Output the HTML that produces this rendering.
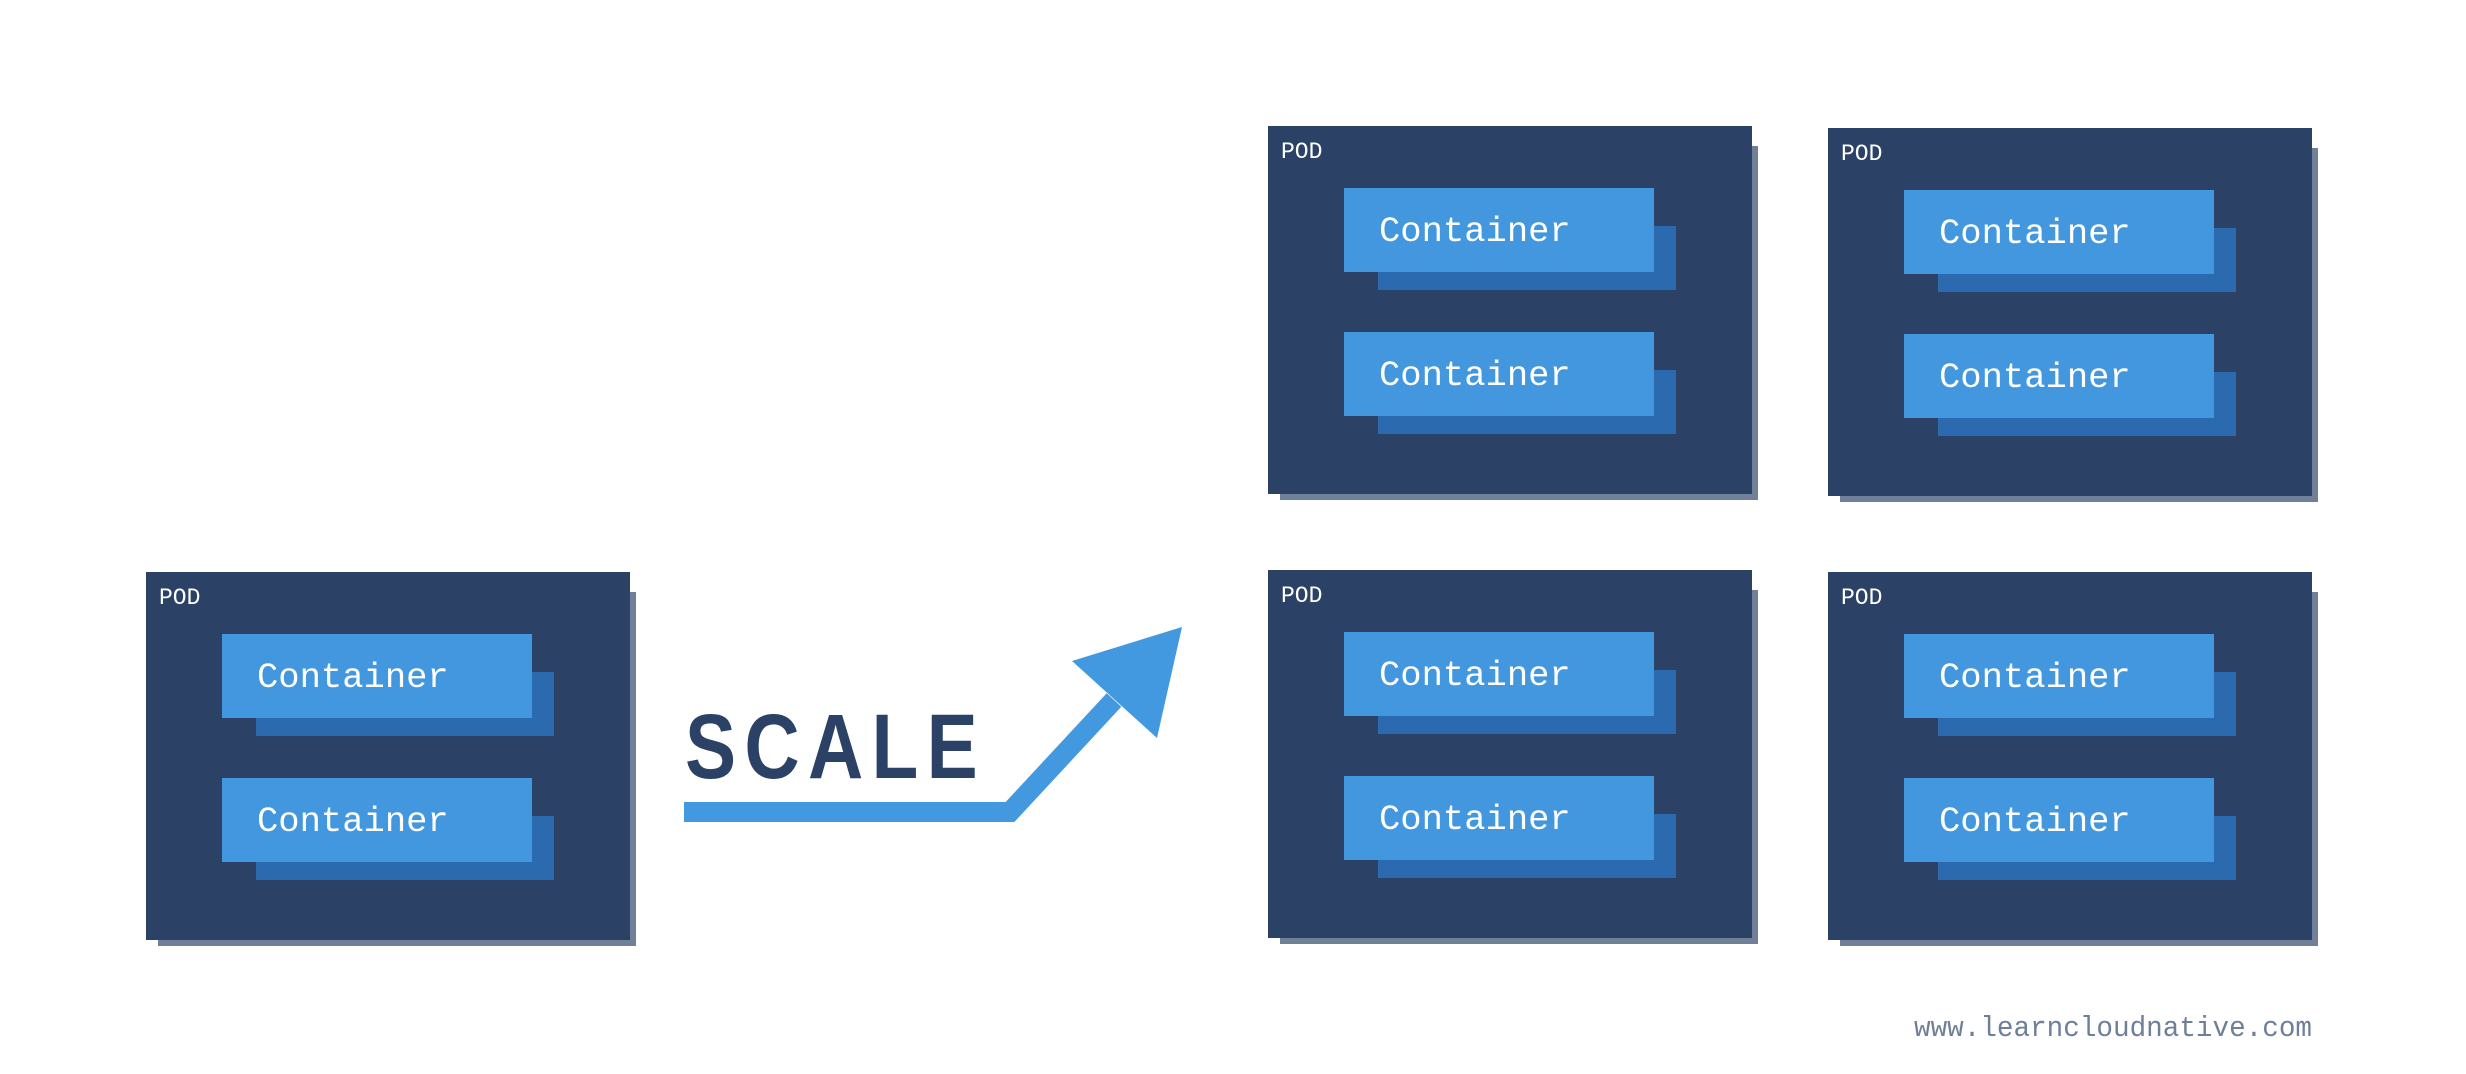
<!DOCTYPE html>
<html><head><meta charset="utf-8"><style>
html,body{margin:0;padding:0;background:#fff;}
svg{display:block;}
</style></head><body>
<svg width="2466" height="1074" viewBox="0 0 2466 1074" xmlns="http://www.w3.org/2000/svg">
<defs>
<g id="pod">
  <rect x="12" y="20" width="478" height="354" fill="#718099"/>
  <rect x="0" y="0" width="484" height="368" fill="#2b4266"/>
  <text x="13" y="32" font-family="'Liberation Mono', monospace" font-size="23" fill="#ffffff">POD</text>
  <rect x="110" y="100" width="298" height="64" fill="#2b6aae"/>
  <rect x="76" y="62" width="310" height="84" fill="#4297df"/>
  <text x="111" y="115" font-family="'Liberation Mono', monospace" font-size="35.5" fill="#ffffff">Container</text>
  <rect x="110" y="244" width="298" height="64" fill="#2b6aae"/>
  <rect x="76" y="206" width="310" height="84" fill="#4297df"/>
  <text x="111" y="259" font-family="'Liberation Mono', monospace" font-size="35.5" fill="#ffffff">Container</text>
</g>
</defs>
<use href="#pod" x="146" y="572"/>
<use href="#pod" x="1268" y="126"/>
<use href="#pod" x="1828" y="128"/>
<use href="#pod" x="1268" y="570"/>
<use href="#pod" x="1828" y="572"/>
<text x="685" y="778" font-family="'Liberation Sans', sans-serif" font-weight="bold" font-size="92" letter-spacing="10" fill="#2b4266" textLength="301" lengthAdjust="spacingAndGlyphs">SCALE</text>
<polyline points="684,812 1010,812 1114,700" fill="none" stroke="#4399e0" stroke-width="20" stroke-linejoin="miter"/>
<polygon points="1072,661 1182,627 1157,738" fill="#4399e0"/>
<text x="1914" y="1036" font-family="'Liberation Mono', monospace" font-size="28.5" fill="#6e7f99" textLength="398" lengthAdjust="spacingAndGlyphs">www.learncloudnative.com</text>
</svg>
</body></html>
